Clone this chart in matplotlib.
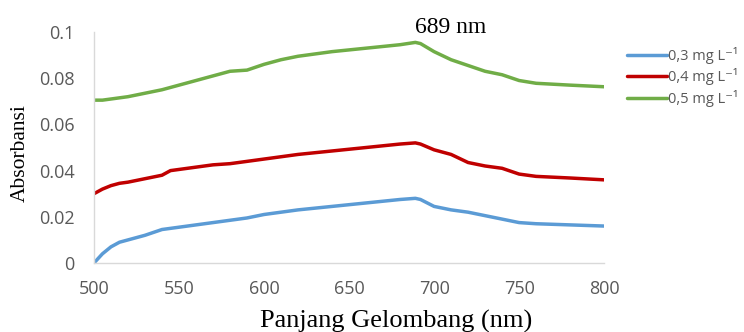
import matplotlib
matplotlib.use("Agg")
import matplotlib.pyplot as plt

wavelength = [500, 505, 510, 515, 520, 530, 540, 545, 550, 560, 570, 580, 590, 600,
              610, 620, 640, 660, 680, 689, 692, 700, 710, 720, 730, 740, 750, 760, 780, 800]
abs_03 = [0.0, 0.004, 0.007, 0.009, 0.010, 0.012, 0.0145, 0.015, 0.0155, 0.0165, 0.0175,
          0.0185, 0.0195, 0.021, 0.022, 0.023, 0.0245, 0.026, 0.0275, 0.028, 0.0275,
          0.0245, 0.023, 0.022, 0.0205, 0.019, 0.0175, 0.017, 0.0165, 0.016]
abs_04 = [0.030, 0.032, 0.0335, 0.0345, 0.035, 0.0365, 0.038, 0.040, 0.0405, 0.0415,
          0.0425, 0.043, 0.044, 0.045, 0.046, 0.047, 0.0485, 0.050, 0.0515, 0.052,
          0.0515, 0.049, 0.047, 0.0435, 0.042, 0.041, 0.0385, 0.0375, 0.0368, 0.036]
abs_05 = [0.0705, 0.0705, 0.071, 0.0715, 0.072, 0.0735, 0.075, 0.076, 0.077, 0.079,
          0.081, 0.083, 0.0835, 0.086, 0.088, 0.0895, 0.0915, 0.093, 0.0945, 0.0955,
          0.095, 0.0915, 0.088, 0.0855, 0.083, 0.0815, 0.079, 0.0778, 0.077, 0.0763]
series_labels = ["0,3 mg L⁻¹", "0,4 mg L⁻¹", "0,5 mg L⁻¹"]
x_ticks = [500, 550, 600, 650, 700, 750, 800]
y_ticks = [0, 0.02, 0.04, 0.06, 0.08, 0.1]
y_tick_labels = ["0", "0.02", "0.04", "0.06", "0.08", "0.1"]
peak_label = "689 nm"
peak_x = 689

colors = ["#5B9BD5", "#C00000", "#70AD47"]
tick_color = "#595959"

fig = plt.figure(figsize=(7.44, 3.32), dpi=100)
ax = fig.add_axes([0.1263, 0.2078, 0.812 - 0.1263, 0.9036 - 0.2078])

for ys, c, lab in zip([abs_03, abs_04, abs_05], colors, series_labels):
    ax.plot(wavelength, ys, color=c, lw=2.5, label=lab, solid_capstyle="round")

ax.set_xlim(500, 800)
ax.set_ylim(0, 0.1)
ax.set_xticks(x_ticks)
ax.set_yticks(y_ticks)
ax.set_yticklabels(y_tick_labels)

for s in ["top", "right"]:
    ax.spines[s].set_visible(False)
for s in ["left", "bottom"]:
    ax.spines[s].set_color("#D9D9D9")
    ax.spines[s].set_linewidth(1.0)
ax.tick_params(length=0, labelsize=13, colors=tick_color)
ax.tick_params(axis="x", pad=12)
ax.tick_params(axis="y", pad=14)
for t in ax.get_xticklabels() + ax.get_yticklabels():
    t.set_family("Open Sans")

fig.text(396 / 744, 1 - 328 / 332, "Panjang Gelombang (nm)", family="Liberation Serif",
         fontsize=19, ha="center", va="baseline", color="black")
fig.text(20 / 744, 1 - 153 / 332, "Absorbansi", family="Liberation Serif",
         fontsize=15.5, ha="center", va="center", rotation=90, color="black")

ax.text(peak_x, 0.0995, peak_label, family="Liberation Serif", fontsize=17,
        ha="left", va="baseline", color="black", clip_on=False)

leg = fig.legend(loc="upper left", bbox_to_anchor=(627 / 744, 1 - 47 / 332), frameon=False,
                 handlelength=2.75, handletextpad=0.05, labelspacing=0.3,
                 borderaxespad=0, borderpad=0,
                 prop={"family": ["Open Sans", "DejaVu Sans"], "size": 10.5})
for t in leg.get_texts():
    t.set_color(tick_color)

fig.savefig("out.png", dpi=100)
